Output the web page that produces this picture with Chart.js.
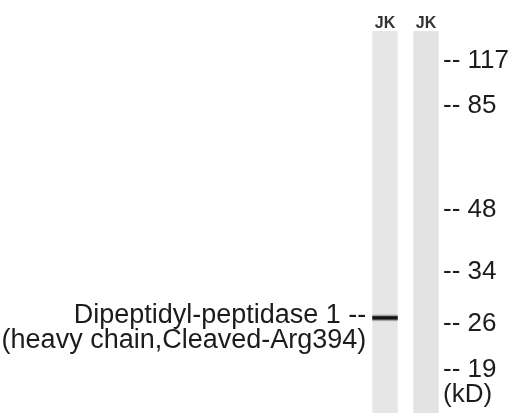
<!DOCTYPE html>
<html>
<head>
<meta charset="utf-8">
<script src="https://cdn.jsdelivr.net/npm/chart.js@4.4.1/dist/chart.umd.min.js"></script>
<style>
  html, body { margin: 0; padding: 0; background: #fff; }
  #wrap { width: 514px; height: 413px; }
</style>
</head>
<body>
<div id="wrap"><canvas id="blot"></canvas></div>
<script>
// 레인 / 마커 데이터 (migration distance = % of gel height, top = 0)
const lanes = ["JK", "JK"];
const markerKd = ["117", "85", "48", "34", "26", "19"];
const markerPos = [7.8, 19.6, 46.8, 63.0, 76.6, 88.7];
const unitLabel = "(kD)";
const unitPos = 95.3;
const bandPos = [75.1, null];          // lane 1 only
const bandLabel = ["Dipeptidyl-peptidase 1 --", "(heavy chain,Cleaved-Arg394)"];

const laneData = lanes.map(() => [0, 100]);
const bandCore = bandPos.map(v => (v == null ? null : [v - 0.45, v + 0.45]));
const bandHalo = bandPos.map(v => (v == null ? null : [v - 0.85, v + 0.85]));

const FONT = "'Liberation Sans', Arial, sans-serif";

// 왼쪽 단백질 라벨
const bandLabelPlugin = {
    id: "bandLabel",
    afterDatasetsDraw(chart) {
        const y = chart.scales.y.getPixelForValue(bandPos[0]);
        const bar = chart.getDatasetMeta(0).data[0];
        const x = bar.x - bar.width / 2 - 6;
        const ctx = chart.ctx;
        ctx.save();
        ctx.fillStyle = "#1c1c1c";
        ctx.font = "27px " + FONT;
        ctx.textAlign = "right";
        ctx.textBaseline = "alphabetic";
        ctx.fillText(bandLabel[0], x, y + 5);
        ctx.fillText(bandLabel[1], x, y + 30);
        ctx.restore();
    },
};

const ctx = document.getElementById("blot").getContext("2d");
new Chart(ctx, {
    type: "bar",
    data: {
        labels: lanes,
        datasets: [
            {
                data: laneData,
                backgroundColor: ["#e6e6e6", "#e3e3e3"],
                grouped: false,
                order: 3,
            },
            {
                data: bandHalo,
                backgroundColor: "rgba(70,70,70,0.4)",
                grouped: false,
                order: 2,
            },
            {
                data: bandCore,
                backgroundColor: "#141414",
                grouped: false,
                order: 1,
            },
        ],
    },
    options: {
        responsive: true,
        maintainAspectRatio: false,
        animation: false,
        layout: { padding: { left: 385, top: 0, right: 0, bottom: 0 } },
        datasets: {
            bar: { categoryPercentage: 1, barPercentage: 0.62, borderWidth: 0, clip: false },
        },
        plugins: {
            legend: { display: false },
            tooltip: { enabled: false },
        },
        scales: {
            x: {
                position: "top",
                offset: false,
                grid: { display: false, drawTicks: false, offset: false },
                border: { display: false },
                ticks: {
                    padding: -2,
                    color: "#333",
                    font: { family: FONT, size: 16, weight: "bold" },
                },
                afterFit(scale) {
                    scale.height = 31;
                    scale.paddingLeft = 0;
                    scale.paddingRight = 0;
                },
            },
            y: {
                position: "right",
                reverse: true,
                min: 0,
                max: 100,
                grid: { display: false, drawTicks: false },
                border: { display: false },
                ticks: {
                    padding: 17,
                    color: "#1c1c1c",
                    font: { family: FONT, size: 26 },
                    callback: (value, index) =>
                        index < markerKd.length ? "-- " + markerKd[index] : unitLabel,
                },
                afterBuildTicks(scale) {
                    scale.ticks = markerPos.concat([unitPos]).map(v => ({ value: v }));
                },
                afterFit(scale) {
                    scale.width = 88;
                    scale.paddingTop = 0;
                    scale.paddingBottom = 0;
                },
            },
        },
    },
    plugins: [bandLabelPlugin],
});
</script>
</body>
</html>
